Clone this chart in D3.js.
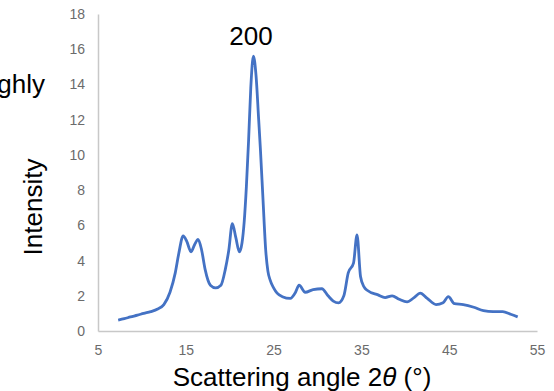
<!DOCTYPE html>
<html>
<head>
<meta charset="utf-8">
<script src="https://cdn.jsdelivr.net/npm/d3@7"></script>
<style>
  body { margin: 0; background: #fff; }
  svg { display: block; font-family: "Liberation Sans", Arial, sans-serif; }
</style>
</head>
<body>
<script>
// diffraktogram - värden
var twoTheta = [7.3, 8.0, 8.7, 9.5, 10.2, 11.0, 11.8, 12.5, 13.2, 13.8, 14.2, 14.7, 15.1, 15.6, 16.0, 16.4,
  16.8, 17.2, 17.8, 18.4, 19.0, 19.5, 19.9, 20.3, 20.7, 21.1, 21.4, 21.65, 21.9, 22.15, 22.4, 22.7, 23.0,
  23.3, 23.5, 23.8, 24.1, 24.35, 24.6, 25.0, 25.4, 26.0, 26.9, 27.5, 27.9, 28.6, 29.5, 30.5, 31.2, 31.8,
  32.4, 33.0, 33.5, 34.1, 34.5, 34.9, 35.3, 35.7, 36.9, 37.7, 38.5, 39.3, 40.2, 41.0, 41.7, 42.5, 43.5,
  44.3, 44.9, 45.6, 46.6, 47.8, 48.9, 50.0, 51.1, 52.0, 52.8];
var intensity = [0.62, 0.7, 0.8, 0.9, 1.0, 1.1, 1.25, 1.5, 2.2, 3.3, 4.4, 5.4, 5.1, 4.5, 4.9, 5.2,
  4.6, 3.5, 2.6, 2.45, 2.6, 3.5, 4.6, 6.1, 5.3, 4.5, 5.0, 6.2, 8.2, 10.8, 13.8, 15.6, 14.5,
  12.0, 10.3, 7.4, 4.6, 3.4, 2.9, 2.45, 2.15, 1.95, 1.85, 2.2, 2.6, 2.2, 2.35, 2.4, 2.0, 1.7,
  1.6, 2.0, 3.3, 3.85, 5.45, 3.1, 2.5, 2.3, 2.05, 1.9, 2.0, 1.8, 1.65, 1.9, 2.15, 1.85, 1.5,
  1.6, 1.95, 1.55, 1.5, 1.35, 1.15, 1.1, 1.1, 0.95, 0.8];
var xTicks = [5, 15, 25, 35, 45, 55];
var yTicks = [0, 2, 4, 6, 8, 10, 12, 14, 16, 18];

var width = 554, height = 391;
var mLeft = 98, mRight = 537, mTop = 14, mBottom = 331;

var svg = d3.select("body").append("svg")
  .attr("width", width)
  .attr("height", height);

var x = d3.scaleLinear().domain([5, 55]).range([mLeft, mRight]);
var y = d3.scaleLinear().domain([0, 18]).range([mBottom, mTop]);

// axlar utan tickstreck
var xAxis = svg.append("g").attr("transform", "translate(0," + mBottom + ")")
  .call(d3.axisBottom(x).tickValues(xTicks).tickSize(0).tickPadding(14));
var yAxis = svg.append("g").attr("transform", "translate(" + mLeft + ",0)")
  .call(d3.axisLeft(y).tickValues(yTicks).tickSize(0).tickPadding(13));

[xAxis, yAxis].forEach(function (a) {
  a.select(".domain").attr("stroke", "#c8c8c8").attr("stroke-width", 1.5);
  a.selectAll("text").attr("fill", "#6b6b6b").style("font-size", "14px")
    .style("font-family", "\"Liberation Sans\", Arial, sans-serif");
});

var pts = twoTheta.map(function (d, i) { return [d, intensity[i]]; });
var line = d3.line()
  .x(function (d) { return x(d[0]); })
  .y(function (d) { return y(d[1]); })
  .curve(d3.curveMonotoneX);

svg.append("path")
  .datum(pts)
  .attr("d", line)
  .attr("fill", "none")
  .attr("stroke", "#4472C4")
  .attr("stroke-width", 2.8)
  .attr("stroke-linejoin", "round");

// etiketter
svg.append("text").attr("x", 251).attr("y", 45).attr("text-anchor", "middle")
  .style("font-size", "26px").text("200");

svg.append("text").attr("x", 45).attr("y", 93).attr("text-anchor", "end")
  .style("font-size", "26px").text("highly");

svg.append("text")
  .attr("transform", "translate(42,207) rotate(-90)")
  .attr("text-anchor", "middle")
  .style("font-size", "26px").text("Intensity");

var xl = svg.append("text").attr("x", 302).attr("y", 386).attr("text-anchor", "middle")
  .style("font-size", "26px");
xl.append("tspan").text("Scattering angle 2");
xl.append("tspan").style("font-style", "italic").text("θ");
xl.append("tspan").text(" (°)");
</script>
</body>
</html>
